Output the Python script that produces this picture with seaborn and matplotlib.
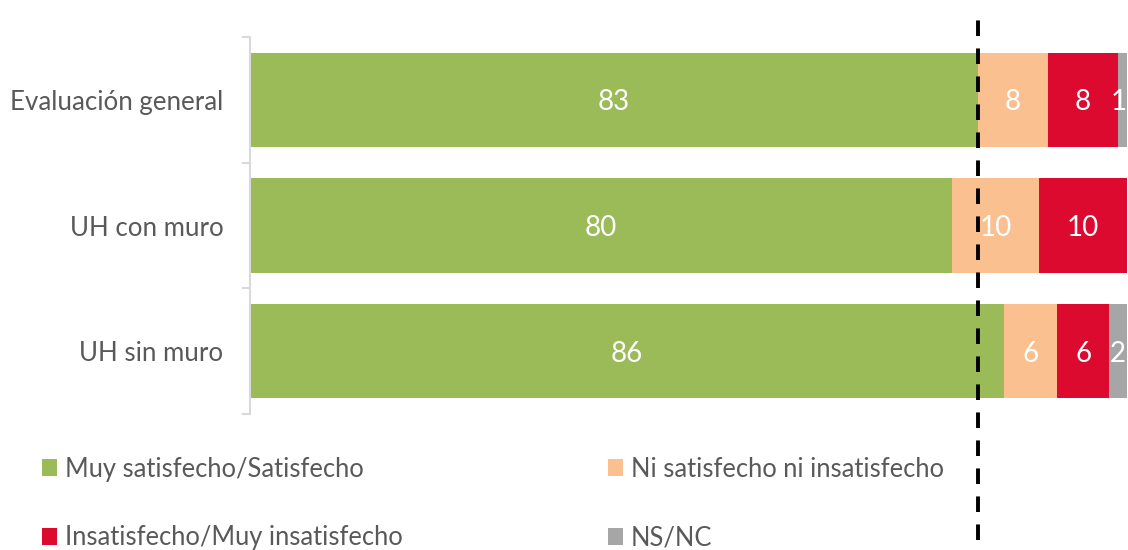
import matplotlib
matplotlib.use("Agg")
import matplotlib.pyplot as plt
from matplotlib.patches import Patch
from matplotlib.transforms import offset_copy
import numpy as np
import pandas as pd
import seaborn as sns

# Survey results (percent of respondents)
categories = ["Evaluación general", "UH con muro", "UH sin muro"]
series_names = [
    "Muy satisfecho/Satisfecho",
    "Ni satisfecho ni insatisfecho",
    "Insatisfecho/Muy insatisfecho",
    "NS/NC",
]
muy_satisfecho = [83, 80, 86]
ni_satisfecho = [8, 10, 6]
insatisfecho = [8, 10, 6]
ns_nc = [1, 0, 2]

colors = ["#9BBB59", "#FAC090", "#DC0A2E", "#A6A6A6"]
text_grey = "#595959"
axis_grey = "#D9D9D9"

sns.set_theme(style="white")
plt.rcParams["font.family"] = ["Lato", "DejaVu Sans"]

values = np.array([muy_satisfecho, ni_satisfecho, insatisfecho, ns_nc], dtype=float)
cum = values.cumsum(axis=0)
df = pd.DataFrame({"categoria": categories})
for i, name in enumerate(series_names):
    df[name] = cum[i]

W, H = 1128, 550
fig = plt.figure(figsize=(W / 100, H / 100), dpi=100)
ax = fig.add_axes([250 / W, 1 - 414 / H, 877 / W, 377 / H])

# Stacked bars: draw cumulative totals from the widest down
for i in reversed(range(len(series_names))):
    sns.barplot(data=df, x=series_names[i], y="categoria", color=colors[i],
                orient="h", width=0.75, saturation=1, ax=ax, linewidth=0)

# Segment value labels
labels = []
for i in range(len(series_names)):
    for j in range(len(categories)):
        v = values[i, j]
        if v <= 0:
            continue
        t = ax.text(cum[i, j] - v / 2, j + 0.02, f"{v:g}", ha="center",
                    va="center", color="white", fontsize=20, zorder=5)
        labels.append(t)

ax.set_xlim(0, 100)
ax.set_ylim(2.5, -0.5)
ax.set_xlabel("")
ax.set_ylabel("")
ax.set_xticks([])

for s in ["top", "right", "bottom"]:
    ax.spines[s].set_visible(False)
ax.spines["left"].set_color(axis_grey)
ax.spines["left"].set_linewidth(1.5)

ax.set_yticks(range(len(categories)))
ax.set_yticklabels(categories)
ax.set_yticks([-0.5, 0.5, 1.5, 2.5], minor=True)
ax.tick_params(axis="y", which="major", length=0, pad=19, labelsize=18.6,
               labelcolor=text_grey)
ax.tick_params(axis="y", which="minor", length=6, width=1.5, color=axis_grey,
               left=True)

# Reference line at the overall satisfaction level
ref = ax.axvline(muy_satisfecho[0], ymin=-0.334, ymax=1.072, color="black",
                 linewidth=2.8, clip_on=False, zorder=6)
ref.set_dashes((4.0, 3.2))

# Legend in two columns
def make_legend(idx, x_px):
    handles = [Patch(facecolor=colors[k], edgecolor="none") for k in idx]
    labels_ = [series_names[k] for k in idx]
    leg = fig.legend(handles, labels_, loc="center left",
                     bbox_to_anchor=(x_px / W, 1 - 503.5 / H),
                     frameon=False, fontsize=18.4, labelcolor=text_grey,
                     handlelength=0.6, handleheight=0.6, handletextpad=0.3,
                     labelspacing=1.72, borderpad=0, borderaxespad=0)
    return leg

make_legend([0, 2], 42)
make_legend([1, 3], 608)

# Keep labels of the thin end segments inside the figure
renderer = fig.canvas.get_renderer()
for t in labels:
    bb = t.get_window_extent(renderer)
    overflow = bb.x1 - (W - 1)
    if overflow > 0:
        t.set_transform(offset_copy(ax.transData, fig=fig, x=-overflow,
                                    units="dots"))

fig.savefig("out.png", dpi=100)
